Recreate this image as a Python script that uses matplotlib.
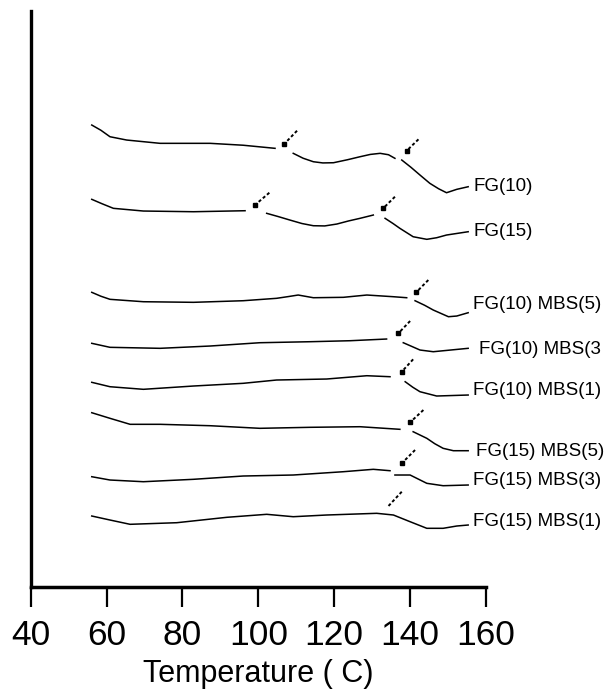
import numpy as np
import matplotlib
matplotlib.use('Agg')
import matplotlib.pyplot as plt

plt.rcParams['font.family'] = ['Liberation Sans', 'DejaVu Sans']

# DSC traces (temperature in C, heat flow in arbitrary units,
# stacked). NaN marks the small breaks in the traces where the arrows point.
labels = ['FG(10)', 'FG(15)', 'FG(10) MBS(5)', 'FG(10) MBS(3', 'FG(10) MBS(1)',
          'FG(15) MBS(5)', 'FG(15) MBS(3)', 'FG(15) MBS(1)']

temp_fg10 = [56.1, 58.5, 60.9, 65.3, 74.1, 87.3, 96.0, 104.4, np.nan, 109.2, 111.8, 114.5, 117.0, 119.8,
             123.5, 126.8, 129.5, 132.1, 134.3, 136.0, np.nan, 137.8, 140.2, 142.6, 145.2, 147.5,
             149.6, 152.3, 155.3]
heat_fg10 = [461.7, 456.5, 450.0, 446.7, 443.4, 443.4, 441.5, 438.4, np.nan, 433.4, 428.5, 425.0, 423.8,
             424.0, 427.0, 430.0, 432.3, 433.4, 432.0, 428.4, np.nan, 426.7, 419.5, 411.7, 403.4,
             398.0, 394.0, 397.4, 400.0]

temp_fg15 = [56.1, 58.8, 61.8, 69.7, 82.9, 96.5, np.nan, 102.2, 105.2, 108.3, 111.5, 114.5, 117.5,
             120.7, 123.8, 126.8, 130.3, np.nan, 133.4, 135.5, 137.3, 140.8, 144.4, 147.0, 149.6, 155.3]
heat_fg15 = [387.4, 383.0, 378.4, 375.7, 375.0, 376.0, np.nan, 373.4, 370.2, 366.7, 363.2, 361.0, 360.8,
             362.7, 365.8, 368.4, 371.7, np.nan, 368.4, 363.2, 358.4, 350.0, 347.4, 349.0, 351.7, 355.0]

temp_fg10_mbs5 = [56.1, 58.5, 60.9, 69.7, 82.9, 96.0, 104.8, 108.0, 110.5, 114.5, 122.4, 128.6, 135.6,
                  139.1, np.nan, 141.3, 143.8, 146.1, 150.1, 152.3, 155.3]
heat_fg10_mbs5 = [294.4, 290.5, 287.4, 285.0, 284.4, 286.0, 288.4, 290.2, 291.7, 289.0, 289.4, 291.7,
                  290.0, 289.0, np.nan, 286.0, 281.5, 276.7, 270.0, 270.7, 274.0]

temp_fg10_mbs3 = [56.1, 60.9, 74.1, 87.3, 100.4, 113.6, 124.2, 133.8, np.nan, 138.2, 140.5, 142.6, 146.1,
                  155.3]
heat_fg10_mbs3 = [243.4, 239.4, 238.4, 240.7, 244.0, 245.0, 246.0, 247.7, np.nan, 244.0, 240.2, 236.7,
                  235.0, 238.4]

temp_fg10_mbs1 = [56.1, 60.9, 69.7, 82.9, 96.0, 104.8, 118.0, 128.6, 134.7, np.nan, 138.7, 140.7, 142.6,
                  147.0, 155.3]
heat_fg10_mbs1 = [204.4, 200.0, 197.4, 200.7, 203.4, 206.7, 207.7, 211.0, 210.0, np.nan, 205.0, 199.5,
                  195.0, 190.7, 191.7]

temp_fg15_mbs5 = [56.1, 60.9, 66.2, 74.1, 87.3, 100.4, 113.6, 126.8, 137.3, np.nan, 140.8, 144.4,
                  146.5, 148.7, 151.4, 155.3]
heat_fg15_mbs5 = [174.0, 168.4, 162.4, 162.4, 161.0, 158.4, 159.4, 160.0, 157.4, np.nan, 155.0, 148.4,
                  143.0, 138.4, 136.0, 136.0]

temp_fg15_mbs3 = [56.1, 60.9, 69.7, 82.9, 96.0, 109.2, 122.4, 130.3, 134.7, np.nan, 136.0, 140.0,
                  144.4, 148.7, 155.3]
heat_fg15_mbs3 = [110.0, 106.7, 105.0, 107.4, 110.7, 111.7, 115.0, 117.4, 116.0, np.nan, 111.7, 111.7,
                  103.4, 101.0, 101.7]

temp_fg15_mbs1 = [56.1, 60.9, 66.2, 78.5, 91.7, 102.2, 109.2, 118.0, 131.2, 135.6, 140.0, 144.4,
                  148.7, 152.3, 155.3]
heat_fg15_mbs1 = [70.7, 66.7, 62.4, 64.0, 69.4, 72.4, 70.0, 71.7, 73.4, 71.7, 65.0, 58.4, 58.4,
                  60.7, 61.7]

temps = [temp_fg10, temp_fg15, temp_fg10_mbs5, temp_fg10_mbs3, temp_fg10_mbs1,
         temp_fg15_mbs5, temp_fg15_mbs3, temp_fg15_mbs1]
heats = [heat_fg10, heat_fg15, heat_fg10_mbs5, heat_fg10_mbs3, heat_fg10_mbs1,
         heat_fg15_mbs5, heat_fg15_mbs3, heat_fg15_mbs1]

# label anchor (temperature, heat flow)
label_temp = [156.6, 156.6, 156.6, 158.2, 156.6, 157.4, 156.6, 156.6]
label_heat = [400.0, 355.0, 282.0, 237.5, 196.0, 135.5, 106.0, 65.0]

# transition arrows: tail -> head
arrow_tail_t = [110.2, 142.2, 102.9, 136.0, 144.8, 140.0, 140.8, 143.5, 141.3, 137.8]
arrow_tail_h = [456.0, 447.4, 394.0, 390.0, 306.7, 265.7, 227.4, 176.7, 136.7, 95.0]
arrow_head_t = [106.8, 139.1, 99.1, 132.9, 141.6, 136.9, 137.8, 140.0, 137.8, 134.3]
arrow_head_h = [442.7, 436.0, 381.7, 378.4, 294.4, 253.4, 215.0, 164.4, 123.4, 80.7]
arrow_has_head = [True, True, True, True, True, True, True, True, True, False]

fig = plt.figure(figsize=(6.05, 6.9), dpi=100)
ax = fig.add_axes([0.0507, 0.1497, 0.7526, 0.8343])

for t, h, lab, lt, lh in zip(temps, heats, labels, label_temp, label_heat):
    ax.plot(t, h, color='black', lw=1.1)
    ax.text(lt, lh, lab, fontsize=13.5, ha='left', va='center')

for tt, th, ht, hh, head in zip(arrow_tail_t, arrow_tail_h, arrow_head_t, arrow_head_h, arrow_has_head):
    ax.plot([tt, ht], [th, hh], color='black', lw=1.4, linestyle=(0, (1.6, 1.2)))
    if head:
        ax.plot([ht], [hh], marker='s', markersize=3.2, color='black')

ax.set_xlim(40, 160)
ax.set_ylim(0, 575.7)
ax.set_xticks([40, 60, 80, 100, 120, 140, 160])
ax.set_yticks([])
for s in ['top', 'right']:
    ax.spines[s].set_visible(False)
ax.spines['left'].set_linewidth(2.4)
ax.spines['bottom'].set_linewidth(2.5)
ax.tick_params(axis='x', direction='out', length=14.5, width=1.6, labelsize=25.5, pad=9)
ax.set_xlabel('Temperature ( C)', fontsize=22, labelpad=5)

fig.savefig('out.png', dpi=100)
